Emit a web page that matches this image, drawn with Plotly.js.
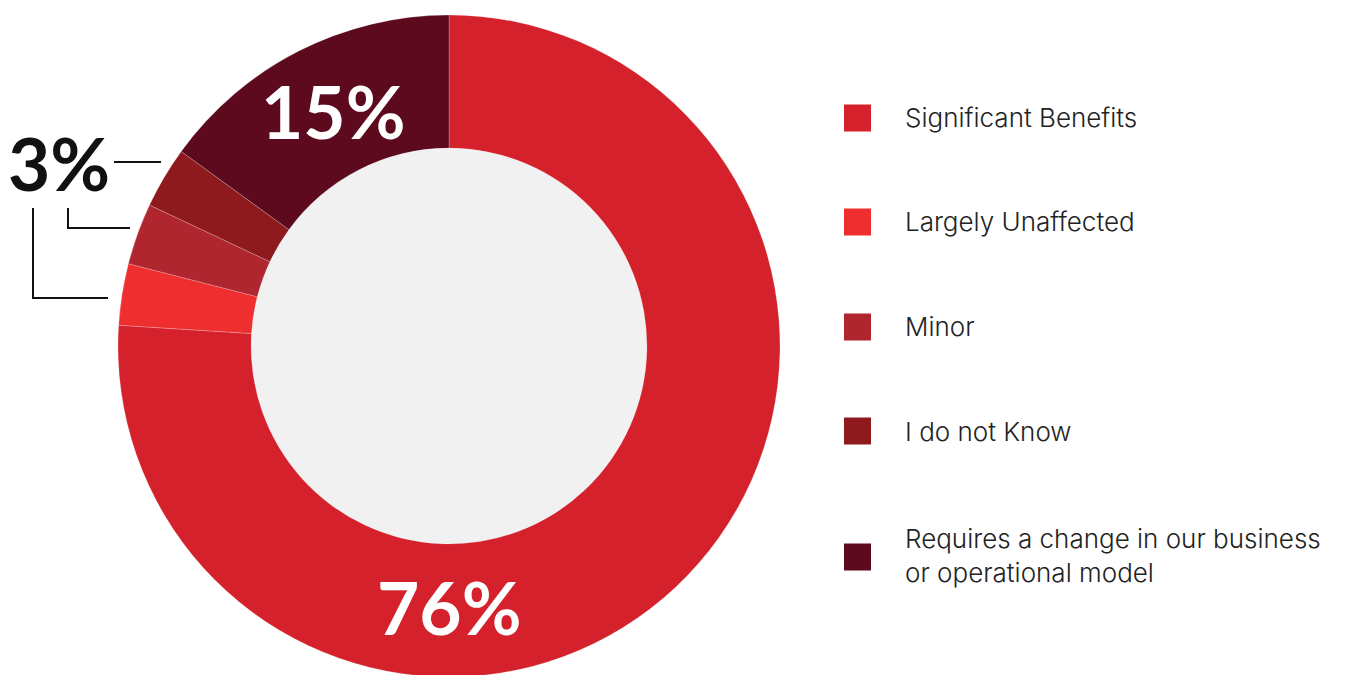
<!DOCTYPE html>
<html>
<head>
<meta charset="utf-8">
<script src="https://cdn.plot.ly/plotly-3.0.1.min.js"></script>
<style>
html,body{margin:0;padding:0;overflow:hidden;background:#fff;}
#chart{width:1349px;height:690px;}
</style>
</head>
<body>
<div id="chart"></div>
<script>
var labels = ["Significant Benefits", "Largely Unaffected", "Minor", "I do not Know", "Requires a change in our business<br>or operational model"];
var values = [76, 3, 3, 3, 15];
var colors = ["#d4212b", "#ee2e2f", "#b0262f", "#8f1a1e", "#5d0a1f"];

var W = 1349, H = 690;
function px(x){ return x / W; }
function py(y){ return 1 - y / H; }

var trace = {
  type: "pie",
  labels: labels,
  values: values,
  sort: false,
  direction: "clockwise",
  rotation: 0,
  hole: 0.598,
  marker: {colors: colors, line: {color: "rgba(255,255,255,0.35)", width: 0.6}},
  textinfo: "none",
  hoverinfo: "skip",
  showlegend: false,
  domain: {x: [px(118), px(780)], y: [py(677), py(15)]}
};

var shapes = [
  {type: "circle", xref: "paper", yref: "paper", layer: "below",
   x0: px(251), x1: px(647), y0: py(544), y1: py(148),
   fillcolor: "#f1f1f1", line: {width: 0}}
];
var lineStyle = {color: "#111", width: 2};
shapes.push({type: "line", xref: "paper", yref: "paper", x0: px(114), x1: px(161), y0: py(162), y1: py(162), line: lineStyle});
shapes.push({type: "path", xref: "paper", yref: "paper",
  path: "M" + px(68) + "," + py(208) + " L" + px(68) + "," + py(228) + " L" + px(130) + "," + py(228), line: lineStyle});
shapes.push({type: "path", xref: "paper", yref: "paper",
  path: "M" + px(33) + "," + py(208) + " L" + px(33) + "," + py(298) + " L" + px(108) + "," + py(298), line: lineStyle});

var annotations = [];
var bigFont = {family: "Lato, sans-serif", size: 73, color: "#ffffff", weight: 700};
annotations.push({xref: "paper", yref: "paper", x: px(449), y: py(607), text: "<b>" + values[0] + "%</b>",
  showarrow: false, xanchor: "center", yanchor: "middle", font: bigFont});
annotations.push({xref: "paper", yref: "paper", x: px(333), y: py(111), text: "<b>" + values[4] + "%</b>",
  showarrow: false, xanchor: "center", yanchor: "middle", font: bigFont});
annotations.push({xref: "paper", yref: "paper", x: px(59), y: py(163), text: "<b>" + values[1] + "%</b>",
  showarrow: false, xanchor: "center", yanchor: "middle",
  font: {family: "Lato, sans-serif", size: 73, color: "#111111", weight: 700}});

var legendY = [118, 222, 327, 431, 557];
var textY = [117, 221, 326, 431, 555];
for (var i = 0; i < labels.length; i++) {
  shapes.push({type: "rect", xref: "paper", yref: "paper",
    x0: px(844), x1: px(871), y0: py(legendY[i] + 13.5), y1: py(legendY[i] - 13.5),
    fillcolor: colors[i], line: {width: 0}});
  annotations.push({xref: "paper", yref: "paper", x: px(903), y: py(textY[i]), text: labels[i],
    showarrow: false, xanchor: "left", yanchor: "middle", align: "left",
    font: {family: "Inter, sans-serif", size: 26, color: "#222222", weight: 300}});
}

var layout = {
  width: W, height: H,
  margin: {l: 0, r: 0, t: 0, b: 0},
  paper_bgcolor: "#ffffff",
  plot_bgcolor: "#ffffff",
  shapes: shapes,
  annotations: annotations
};

Plotly.newPlot("chart", [trace], layout, {displayModeBar: false, staticPlot: true});
</script>
</body>
</html>
